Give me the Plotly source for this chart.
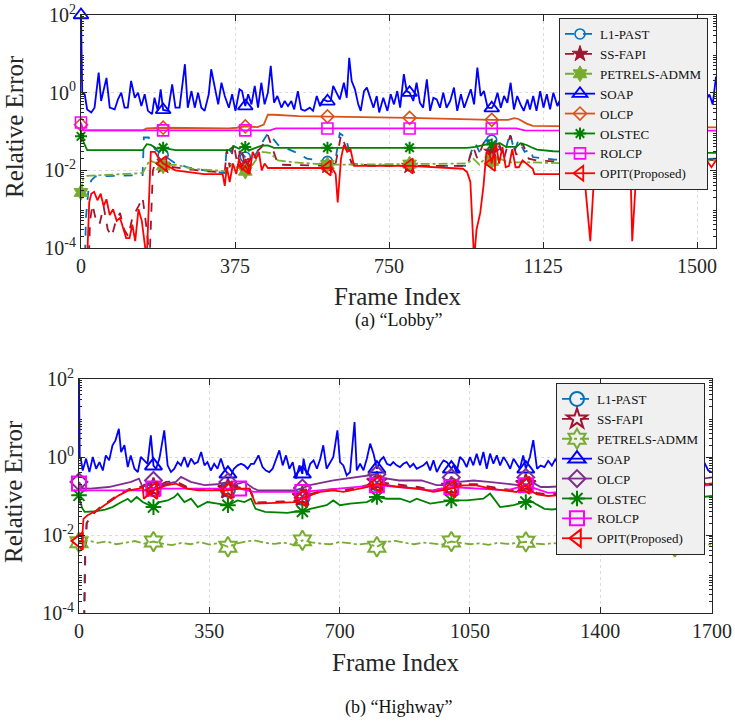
import numpy as np
import plotly.graph_objects as go

FONT = "Liberation Serif"
AX = "#262626"

# ------------------------------------------------------------------ Lobby data (frame, relative error)
lobby_l1past = [(0, 1e-6), (8, 1e-5), (12, 6e-4), (18, 3e-3), (25, 5.5e-3), (35, 7e-3), (150, 7.5e-3), (153, 0.07),
                (165, 0.07), (180, 0.035), (200, 0.025), (230, 0.015), (260, 0.012), (300, 0.01), (350, 0.0085),
                (355, 0.04), (365, 0.03), (375, 0.045), (385, 0.03), (400, 0.022), (420, 0.02), (440, 0.05),
                (455, 0.09), (465, 0.07), (480, 0.045), (520, 0.03), (550, 0.02), (600, 0.017), (620, 0.02),
                (630, 0.09), (645, 0.07), (660, 0.015), (700, 0.013), (800, 0.013), (940, 0.013), (950, 0.03),
                (960, 0.05), (970, 0.03), (985, 0.06), (1000, 0.06), (1015, 0.045), (1030, 0.025), (1045, 0.09),
                (1055, 0.03), (1065, 0.06), (1080, 0.03), (1095, 0.035), (1100, 0.022), (1150, 0.019),
                (1200, 0.018), (1260, 0.016), (1290, 0.012), (1330, 0.012), (1400, 0.017), (1546, 0.02)]
lobby_ssfapi = [(0, 1e-6), (17, 1e-5), (22, 5e-4), (28, 1.3e-3), (35, 6e-4), (45, 4e-4), (55, 1.2e-3), (65, 3e-4),
                (75, 2e-4), (85, 5e-4), (95, 8e-4), (105, 3e-4), (115, 2e-4), (125, 6e-4), (140, 1.2e-3),
                (150, 2e-3), (160, 3e-4), (167, 5e-5), (175, 0.01), (185, 0.02), (200, 0.013), (250, 0.011),
                (300, 0.0095), (350, 0.009), (355, 0.035), (362, 0.012), (372, 0.05), (380, 0.015), (390, 0.04),
                (400, 0.012), (420, 0.025), (440, 0.04), (455, 0.08), (465, 0.04), (480, 0.014), (600, 0.013),
                (620, 0.015), (633, 0.08), (645, 0.04), (660, 0.014), (800, 0.013), (940, 0.013), (955, 0.04),
                (965, 0.02), (980, 0.05), (1000, 0.03), (1015, 0.06), (1030, 0.02), (1045, 0.08), (1060, 0.025),
                (1075, 0.05), (1090, 0.02), (1110, 0.018), (1200, 0.016), (1400, 0.018), (1500, 0.02), (1546, 0.018)]
lobby_petrels = [(0, 0.0027), (5, 0.006), (15, 0.0072), (50, 0.0075), (150, 0.0085), (167, 0.018), (200, 0.013),
                 (230, 0.014), (270, 0.011), (350, 0.0095), (365, 0.014), (380, 0.012), (400, 0.0095), (420, 0.015),
                 (440, 0.03), (460, 0.028), (480, 0.018), (520, 0.016), (600, 0.014), (800, 0.0145), (940, 0.015),
                 (955, 0.02), (970, 0.014), (990, 0.025), (1000, 0.017), (1020, 0.02), (1040, 0.016), (1100, 0.016),
                 (1200, 0.015), (1300, 0.016), (1400, 0.017), (1546, 0.018)]
lobby_soap = [(0, 100), (3, 1.0), (9, 0.91), (15, 0.37), (25, 0.31), (33, 0.41), (43, 3.3), (49, 0.61), (62, 2.4),
              (70, 0.41), (82, 0.37), (90, 0.67), (98, 1.0), (106, 0.41), (114, 0.41), (122, 2.0), (131, 0.74),
              (139, 1.0), (147, 0.45), (155, 0.91), (163, 0.34), (173, 0.28), (179, 0.74), (187, 0.34), (194, 1.22),
              (200, 0.36), (212, 0.34), (222, 1.64), (230, 0.41), (240, 0.41), (253, 5.4), (260, 0.41), (269, 1.1),
              (277, 0.41), (285, 1.0), (293, 0.41), (301, 0.34), (311, 0.91), (317, 4.0), (325, 1.64), (334, 0.5),
              (342, 1.8), (350, 0.82), (360, 0.41), (368, 0.91), (376, 0.34), (386, 1.22), (392, 1.1), (400, 0.45),
              (407, 0.91), (415, 0.5), (423, 1.49), (431, 0.41), (439, 1.8), (447, 0.5), (455, 1.0), (462, 4.9),
              (470, 0.55), (478, 0.82), (488, 0.41), (496, 0.61), (504, 0.45), (512, 0.61), (519, 0.37), (528, 1.1),
              (536, 0.37), (545, 0.34), (557, 0.41), (565, 0.34), (574, 0.82), (582, 0.45), (590, 0.67), (600, 0.6),
              (608, 0.61), (614, 1.49), (622, 1.0), (630, 0.67), (640, 1.8), (647, 0.74), (653, 7.9), (659, 2.0),
              (667, 1.22), (675, 0.5), (681, 0.34), (689, 1.1), (696, 1.35), (704, 0.74), (712, 0.41), (720, 0.82),
              (726, 0.31), (736, 0.74), (746, 0.34), (754, 0.91), (762, 0.5), (770, 1.1), (777, 0.41), (786, 3.0),
              (793, 1.1), (800, 1.0), (809, 0.61), (817, 1.8), (825, 0.55), (833, 0.41), (842, 2.2), (850, 0.34),
              (858, 0.74), (866, 0.67), (874, 0.41), (882, 1.0), (890, 0.41), (899, 0.61), (908, 1.35), (916, 0.34),
              (925, 0.91), (933, 0.41), (941, 0.67), (949, 1.22), (957, 0.5), (965, 4.4), (973, 0.82), (981, 1.1),
              (990, 0.41), (1000, 0.4), (1006, 0.5), (1014, 1.0), (1022, 0.41), (1030, 0.82), (1038, 0.55),
              (1046, 1.8), (1054, 0.37), (1062, 0.82), (1070, 0.5), (1078, 0.34), (1087, 0.67), (1093, 0.37),
              (1101, 0.82), (1109, 0.34), (1118, 1.1), (1126, 0.41), (1134, 0.91), (1142, 0.37), (1150, 1.0),
              (1160, 0.45), (1170, 0.82), (1180, 0.4), (1190, 1.2), (1200, 0.5), (1210, 0.9), (1220, 0.4),
              (1230, 0.7), (1240, 1.3), (1250, 0.45), (1260, 0.8), (1270, 0.4), (1280, 1.0), (1290, 0.5),
              (1300, 0.7), (1310, 0.4), (1320, 1.5), (1330, 0.6), (1340, 0.45), (1350, 0.9), (1360, 0.5),
              (1370, 0.8), (1380, 0.4), (1390, 1.1), (1400, 0.5), (1410, 0.8), (1420, 0.45), (1430, 1.0),
              (1440, 0.5), (1450, 0.7), (1460, 0.4), (1470, 0.9), (1480, 0.5), (1490, 0.8), (1500, 0.45),
              (1510, 1.1), (1520, 0.6), (1530, 0.9), (1538, 0.5), (1546, 2.6)]
lobby_olcp = [(0, 0.15), (5, 0.107), (150, 0.107), (160, 0.12), (200, 0.125), (360, 0.12), (380, 0.125),
              (400, 0.135), (430, 0.13), (445, 0.15), (455, 0.27), (470, 0.27), (530, 0.25), (600, 0.245),
              (800, 0.225), (1000, 0.2), (1040, 0.2), (1055, 0.22), (1065, 0.21), (1085, 0.16), (1100, 0.14),
              (1200, 0.135), (1400, 0.13), (1546, 0.128)]
lobby_olstec = [(0, 0.075), (8, 0.05), (15, 0.033), (150, 0.033), (160, 0.047), (170, 0.045), (185, 0.036),
                (200, 0.038), (215, 0.036), (230, 0.033), (360, 0.033), (372, 0.042), (385, 0.036), (395, 0.043),
                (400, 0.04), (410, 0.033), (425, 0.038), (440, 0.043), (455, 0.044), (470, 0.038), (600, 0.038),
                (800, 0.038), (940, 0.038), (960, 0.04), (990, 0.047), (1000, 0.046), (1020, 0.05), (1035, 0.04),
                (1060, 0.04), (1070, 0.05), (1085, 0.045), (1095, 0.04), (1110, 0.034), (1150, 0.031),
                (1200, 0.03), (1400, 0.029), (1546, 0.028)]
lobby_rolcp = [(0, 0.17), (5, 0.107), (200, 0.107), (400, 0.107), (460, 0.107), (475, 0.12), (600, 0.12),
               (800, 0.12), (1000, 0.12), (1060, 0.12), (1080, 0.107), (1200, 0.106), (1400, 0.105), (1546, 0.105)]
lobby_opit = [(0, 1e-6), (15, 5e-5), (20, 1.5e-3), (25, 2.5e-3), (32, 2.8e-3), (40, 1.7e-3), (48, 2.5e-3),
              (55, 1.2e-3), (62, 1.8e-3), (70, 7e-4), (78, 1e-3), (87, 5e-4), (95, 6e-4), (103, 3e-4),
              (110, 1.8e-4), (118, 1.8e-4), (125, 4e-4), (132, 1.5e-4), (140, 1e-3), (148, 5e-4), (155, 1e-4),
              (160, 5e-5), (170, 0.03), (180, 0.03), (190, 0.02), (200, 0.015), (230, 0.01), (300, 0.008),
              (345, 0.008), (350, 0.004), (355, 0.012), (362, 0.005), (370, 0.015), (378, 0.008), (385, 0.02),
              (392, 0.01), (400, 0.013), (410, 0.008), (418, 0.03), (426, 0.02), (433, 0.03), (440, 0.01),
              (447, 0.015), (455, 0.0115), (600, 0.0115), (610, 0.012), (620, 0.008), (625, 0.0015), (633, 0.02),
              (640, 0.045), (648, 0.03), (656, 0.035), (665, 0.013), (800, 0.013), (930, 0.011), (940, 0.009),
              (948, 0.005), (957, 5e-5), (963, 3e-4), (972, 8e-4), (980, 0.004), (987, 0.03), (995, 0.025),
              (1000, 0.015), (1010, 0.05), (1018, 0.015), (1026, 0.04), (1034, 0.012), (1042, 0.013),
              (1050, 0.035), (1058, 0.012), (1066, 0.012), (1075, 0.018), (1090, 0.013), (1100, 0.011),
              (1104, 0.008), (1200, 0.008), (1225, 0.008), (1240, 1.5e-4), (1250, 0.01), (1338, 0.009),
              (1342, 1.5e-4), (1350, 0.004), (1357, 0.011), (1400, 0.012), (1420, 0.013), (1440, 0.02),
              (1460, 0.012), (1480, 0.025), (1500, 0.013), (1520, 0.02), (1535, 0.012), (1546, 0.018)]

# ------------------------------------------------------------------ Highway data (frame, relative error)
hw_l1past = [(0, 1e-6), (12, 1e-5), (16, 0.003), (20, 0.02), (30, 0.028), (40, 0.036), (55, 0.048), (81, 0.072),
             (107, 0.105), (134, 0.145), (161, 0.16), (171, 0.175), (176, 0.09), (200, 0.15), (234, 0.2),
             (260, 0.22), (290, 0.16), (320, 0.145), (400, 0.145), (430, 0.16), (457, 0.16), (474, 0.066),
             (583, 0.072), (600, 0.09), (648, 0.13), (683, 0.145), (710, 0.13), (773, 0.175), (800, 0.21),
             (830, 0.19), (862, 0.175), (910, 0.16), (952, 0.13), (1000, 0.16), (1030, 0.19), (1068, 0.19),
             (1104, 0.16), (1140, 0.145), (1175, 0.13), (1200, 0.19), (1211, 0.145), (1230, 0.115),
             (1260, 0.105), (1400, 0.135), (1600, 0.165), (1700, 0.215)]
hw_ssfapi = [(0, 1e-6), (13, 1e-5), (17, 0.003), (21, 0.02), (30, 0.029), (40, 0.037), (55, 0.05), (81, 0.075),
             (107, 0.11), (134, 0.15), (161, 0.17), (171, 0.18), (176, 0.095), (200, 0.16), (234, 0.23),
             (260, 0.24), (290, 0.17), (320, 0.15), (400, 0.15), (430, 0.165), (457, 0.165), (474, 0.068),
             (583, 0.075), (600, 0.095), (648, 0.135), (683, 0.15), (710, 0.14), (773, 0.19), (800, 0.23),
             (830, 0.21), (862, 0.19), (910, 0.17), (952, 0.14), (1000, 0.17), (1030, 0.2), (1068, 0.2),
             (1104, 0.17), (1140, 0.15), (1175, 0.14), (1200, 0.2), (1211, 0.155), (1230, 0.12), (1260, 0.11),
             (1400, 0.14), (1600, 0.17), (1700, 0.22)]
hw_petrels = [(0, 0.0065), (25, 0.0072), (50, 0.0063), (75, 0.0068), (100, 0.0058), (125, 0.0064), (150, 0.0070),
              (175, 0.0060), (200, 0.0068), (225, 0.0060), (250, 0.0055), (275, 0.0063), (300, 0.0058),
              (325, 0.0066), (350, 0.0057), (375, 0.0062), (400, 0.0050), (425, 0.0061), (450, 0.0069),
              (475, 0.0072), (500, 0.0063), (525, 0.0059), (550, 0.0064), (575, 0.0056), (600, 0.0073),
              (625, 0.0065), (650, 0.0060), (675, 0.0058), (700, 0.0066), (725, 0.0062), (750, 0.0057),
              (775, 0.0061), (800, 0.0050), (825, 0.0067), (850, 0.0071), (875, 0.0063), (900, 0.0058),
              (925, 0.0064), (950, 0.0060), (975, 0.0057), (1000, 0.0068), (1025, 0.0062), (1050, 0.0058),
              (1075, 0.0061), (1100, 0.0056), (1125, 0.0063), (1150, 0.0059), (1175, 0.0062), (1200, 0.0067),
              (1225, 0.0060), (1250, 0.0058), (1275, 0.0062), (1300, 0.0057), (1325, 0.0061), (1350, 0.0059),
              (1375, 0.0063), (1400, 0.0066), (1425, 0.0058), (1450, 0.0061), (1475, 0.0057), (1500, 0.0060),
              (1525, 0.0056), (1550, 0.0059), (1575, 0.0055), (1600, 0.0050), (1625, 0.0058), (1650, 0.0055),
              (1675, 0.0060), (1700, 0.0056)]
hw_soap = [(0, 100), (2, 1.0), (5, 0.9), (10, 0.45), (19, 0.91), (28, 0.41), (37, 1.0), (46, 0.5), (55, 0.74),
           (64, 0.45), (72, 1.1), (81, 0.82), (90, 2.0), (98, 2.67), (107, 5.3), (113, 1.34), (122, 2.0),
           (131, 0.55), (139, 1.1), (149, 0.5), (158, 0.41), (166, 1.0), (175, 0.82), (184, 0.67), (193, 3.6),
           (200, 0.6), (207, 0.5), (216, 0.91), (229, 4.8), (238, 0.61), (247, 0.41), (256, 0.5), (265, 0.74),
           (274, 0.61), (283, 1.0), (292, 0.55), (301, 0.91), (310, 0.67), (319, 0.74), (328, 1.34), (337, 0.61),
           (345, 0.74), (354, 0.45), (363, 0.67), (372, 0.5), (381, 0.91), (390, 0.5), (400, 0.37), (408, 0.34),
           (416, 0.5), (426, 0.61), (435, 0.67), (444, 0.61), (453, 0.5), (462, 0.67), (470, 0.67), (482, 1.1),
           (493, 0.55), (502, 0.45), (511, 0.41), (520, 0.5), (529, 0.82), (538, 1.48), (547, 0.61), (556, 1.1),
           (565, 0.5), (574, 0.74), (583, 0.28), (592, 0.61), (600, 0.37), (603, 0.906), (612, 0.34), (621, 0.67),
           (630, 0.82), (639, 0.5), (648, 0.906), (656, 2.0), (665, 0.5), (674, 0.74), (683, 1.0), (694, 4.8),
           (701, 0.74), (710, 0.61), (719, 0.34), (728, 0.41), (740, 7.9), (746, 0.455), (755, 0.67), (764, 0.455),
           (773, 0.906), (782, 2.2), (791, 1.22), (800, 0.5), (809, 0.82), (818, 1.0), (827, 0.67), (836, 0.61),
           (844, 0.74), (853, 0.61), (862, 0.55), (871, 0.67), (880, 0.74), (889, 0.55), (898, 0.67), (907, 0.5),
           (916, 0.55), (925, 0.61), (934, 0.74), (943, 0.455), (952, 0.82), (961, 0.41), (970, 0.61), (979, 0.82),
           (988, 0.74), (1000, 0.5), (1006, 0.61), (1014, 0.41), (1023, 1.0), (1032, 0.82), (1041, 0.55),
           (1050, 1.0), (1059, 0.61), (1068, 1.22), (1077, 0.61), (1086, 1.34), (1095, 0.5), (1104, 1.22),
           (1113, 0.67), (1122, 1.1), (1131, 0.61), (1140, 1.0), (1149, 0.74), (1158, 0.5), (1167, 0.906),
           (1175, 0.67), (1184, 0.5), (1193, 1.1), (1200, 0.5), (1211, 1.0), (1220, 2.7), (1230, 0.5),
           (1240, 0.6), (1250, 0.55), (1260, 0.8), (1270, 0.6), (1280, 0.9), (1290, 0.5), (1300, 0.7),
           (1310, 0.5), (1320, 1.0), (1330, 0.6), (1340, 0.8), (1350, 0.5), (1360, 0.9), (1370, 0.6),
           (1380, 0.7), (1390, 0.5), (1400, 0.8), (1410, 0.6), (1420, 1.0), (1430, 0.5), (1440, 0.7),
           (1450, 0.6), (1460, 0.9), (1470, 0.5), (1480, 0.8), (1490, 0.6), (1500, 0.7), (1510, 0.5),
           (1520, 0.9), (1530, 0.6), (1540, 0.8), (1550, 0.5), (1560, 0.7), (1570, 0.6), (1580, 0.9),
           (1590, 0.5), (1600, 0.7), (1610, 0.6), (1620, 0.8), (1630, 0.5), (1640, 0.7), (1650, 0.6),
           (1660, 0.8), (1670, 0.6), (1680, 0.7), (1690, 0.45), (1700, 0.4)]
hw_olcp = [(0, 0.23), (10, 0.16), (30, 0.155), (80, 0.17), (140, 0.23), (161, 0.28), (171, 0.17), (200, 0.25),
           (215, 0.19), (260, 0.23), (274, 0.31), (300, 0.23), (337, 0.19), (370, 0.2), (400, 0.23), (415, 0.19),
           (444, 0.23), (467, 0.16), (480, 0.14), (580, 0.14), (600, 0.16), (620, 0.19), (683, 0.25), (773, 0.34),
           (800, 0.36), (815, 0.29), (860, 0.25), (920, 0.25), (960, 0.19), (980, 0.19), (1000, 0.3),
           (1020, 0.23), (1060, 0.25), (1100, 0.23), (1140, 0.21), (1180, 0.19), (1200, 0.3), (1215, 0.23),
           (1240, 0.17), (1260, 0.17), (1400, 0.2), (1600, 0.22), (1700, 0.3)]
hw_olstec = [(0, 0.104), (8, 0.05), (15, 0.039), (40, 0.04), (70, 0.045), (90, 0.052), (107, 0.064), (131, 0.085),
             (140, 0.07), (155, 0.094), (171, 0.07), (200, 0.052), (216, 0.07), (238, 0.077), (256, 0.094),
             (265, 0.115), (283, 0.07), (301, 0.085), (319, 0.052), (345, 0.07), (372, 0.064), (400, 0.058),
             (426, 0.077), (444, 0.07), (462, 0.085), (474, 0.047), (500, 0.039), (560, 0.037), (583, 0.04),
             (600, 0.04), (621, 0.047), (665, 0.058), (683, 0.077), (701, 0.058), (728, 0.064), (773, 0.07),
             (800, 0.094), (827, 0.085), (862, 0.085), (889, 0.07), (907, 0.085), (943, 0.064), (970, 0.07),
             (1000, 0.077), (1041, 0.077), (1086, 0.085), (1104, 0.115), (1131, 0.052), (1167, 0.058),
             (1200, 0.07), (1211, 0.077), (1230, 0.06), (1250, 0.047), (1270, 0.045), (1400, 0.06),
             (1600, 0.08), (1700, 0.1)]
hw_rolcp = [(0, 0.21), (5, 0.14), (170, 0.14), (200, 0.155), (430, 0.155), (455, 0.14), (470, 0.127), (600, 0.127),
            (680, 0.15), (790, 0.19), (800, 0.19), (950, 0.14), (1000, 0.17), (1150, 0.14), (1200, 0.188),
            (1260, 0.12), (1400, 0.15), (1600, 0.17), (1700, 0.19)]
hw_opit = [(0, 0.007), (8, 0.007), (12, 0.026), (23, 0.032), (40, 0.039), (55, 0.047), (81, 0.07), (107, 0.104),
           (134, 0.14), (161, 0.154), (171, 0.17), (174, 0.085), (200, 0.14), (234, 0.188), (260, 0.207),
           (290, 0.154), (320, 0.14), (400, 0.14), (430, 0.154), (457, 0.154), (474, 0.064), (583, 0.07),
           (600, 0.09), (648, 0.127), (683, 0.14), (710, 0.127), (773, 0.17), (800, 0.207), (830, 0.188),
           (862, 0.17), (910, 0.154), (952, 0.127), (1000, 0.154), (1030, 0.188), (1068, 0.188), (1104, 0.154),
           (1140, 0.14), (1175, 0.127), (1200, 0.188), (1211, 0.14), (1230, 0.11), (1260, 0.1), (1400, 0.13),
           (1600, 0.16), (1700, 0.21)]

lobby_marker_frames = [0, 200, 400, 600, 800, 1000, 1200, 1400]
hw_marker_frames = [0, 200, 400, 600, 800, 1000, 1200, 1400, 1600]
hw_soap_marker_frames = [200, 400, 600, 800, 1000, 1200, 1400, 1600]
lobby_xticks = [0, 375, 750, 1125, 1500]
hw_xticks = [0, 350, 700, 1050, 1400, 1700]
y_ticks = [1e-4, 1e-2, 1, 100]
y_ticktext = ["10<sup>-4</sup>", "10<sup>-2</sup>", "10<sup>0</sup>", "10<sup>2</sup>"]
y_minor = [k * 10.0 ** e for e in range(-4, 2) for k in range(2, 10)]

names = ["L1-PAST", "SS-FAPI", "PETRELS-ADMM", "SOAP", "OLCP", "OLSTEC", "ROLCP", "OPIT(Proposed)"]

fig = go.Figure()


def add_series(xa, ya, leg, name, pairs, color, dash, symbol, msize, mlw, mframes, lw=1.8):
    f = np.array([p[0] for p in pairs], dtype=float)
    v = np.array([p[1] for p in pairs], dtype=float)
    marker = dict(symbol=symbol, size=msize, color=color, line=dict(color=color, width=mlw))
    fig.add_trace(go.Scatter(x=f, y=v, mode="lines", line=dict(color=color, width=lw, dash=dash),
                             xaxis=xa, yaxis=ya, showlegend=False, hoverinfo="skip"))
    idx = [int(np.argmin(np.abs(f - m))) for m in mframes]
    idx = [i for i in idx if v[i] >= 1e-4]
    fig.add_trace(go.Scatter(x=f[idx], y=v[idx], mode="markers", marker=marker, cliponaxis=False,
                             xaxis=xa, yaxis=ya, showlegend=False, hoverinfo="skip"))
    fig.add_trace(go.Scatter(x=[None], y=[None], mode="lines+markers", name=name,
                             line=dict(color=color, width=lw, dash=dash), marker=marker,
                             xaxis=xa, yaxis=ya, legend=leg))


top_specs = [
    (lobby_l1past, "#0072BD", "dash", "circle-open", 10, 1.6, lobby_marker_frames),
    (lobby_ssfapi, "#A2142F", "dash", "star", 12, 1, lobby_marker_frames),
    (lobby_petrels, "#77AC30", "dashdot", "hexagram", 12, 1, lobby_marker_frames),
    (lobby_soap, "#0000FF", "solid", "triangle-up-open", 13, 1.8, lobby_marker_frames),
    (lobby_olcp, "#D95319", "solid", "diamond-open", 10, 1.6, lobby_marker_frames),
    (lobby_olstec, "#008000", "solid", "asterisk-open", 10, 2, lobby_marker_frames),
    (lobby_rolcp, "#FF00FF", "solid", "square-open", 11, 1.6, lobby_marker_frames),
    (lobby_opit, "#FF0000", "solid", "triangle-left-open", 13, 1.8, lobby_marker_frames),
]
bot_specs = [
    (hw_l1past, "#0072BD", "dash", "circle-open", 14, 2, hw_marker_frames),
    (hw_ssfapi, "#A2142F", "dash", "star-open", 15, 2, hw_marker_frames),
    (hw_petrels, "#77AC30", "dashdot", "hexagram-open", 15, 2, hw_marker_frames),
    (hw_soap, "#0000FF", "solid", "triangle-up-open", 15, 2, hw_soap_marker_frames),
    (hw_olcp, "#7E2F8E", "solid", "diamond-open", 13, 2, hw_marker_frames),
    (hw_olstec, "#008000", "solid", "asterisk-open", 13, 2, hw_marker_frames),
    (hw_rolcp, "#FF00FF", "solid", "square-open", 14, 2, hw_marker_frames),
    (hw_opit, "#FF0000", "solid", "triangle-left-open", 15, 2, hw_marker_frames),
]

for name, (pairs, c, d, s, ms, mlw, mf) in zip(names, top_specs):
    add_series("x", "y", "legend", name, pairs, c, d, s, ms, mlw, mf)
for name, (pairs, c, d, s, ms, mlw, mf) in zip(names, bot_specs):
    add_series("x2", "y2", "legend2", name, pairs, c, d, s, ms, mlw, mf)

W, H = 735, 722
tickfont = dict(family=FONT, size=20, color=AX)


def xax(domain, rng, ticks, anchor):
    return dict(domain=domain, range=rng, tickvals=ticks, ticks="inside", ticklen=6, tickcolor=AX,
                showline=True, linecolor=AX, linewidth=1, mirror="ticks", zeroline=False,
                showgrid=True, gridcolor="#dcdcdc", griddash="dot", gridwidth=1,
                tickfont=tickfont, anchor=anchor, automargin=False)


def yax(domain, anchor):
    return dict(domain=domain, type="log", range=[-4, 2], tickvals=y_ticks, ticktext=y_ticktext,
                ticks="inside", ticklen=6, tickcolor=AX, showline=True, linecolor=AX, linewidth=1,
                mirror="ticks", zeroline=False, showgrid=True, gridcolor="#dcdcdc", griddash="dot",
                gridwidth=1, tickfont=tickfont, anchor=anchor, automargin=False,
                minor=dict(tickvals=y_minor, ticks="inside", ticklen=3, tickcolor=AX, showgrid=False))


legend_common = dict(bgcolor="#f0f0f0", bordercolor=AX, borderwidth=1, xanchor="right", yanchor="top",
                     font=dict(family=FONT, size=13, color="#111111"), tracegroupgap=0, itemwidth=30)

fig.update_layout(
    width=W, height=H, margin=dict(l=0, r=0, t=0, b=0, autoexpand=False),
    paper_bgcolor="white", plot_bgcolor="white",
    xaxis=xax([81 / W, 716 / W], [0, 1546], lobby_xticks, "y"),
    yaxis=yax([1 - 248 / H, 1 - 15 / H], "x"),
    xaxis2=xax([79 / W, 712 / W], [0, 1700], hw_xticks, "y2"),
    yaxis2=yax([1 - 613 / H, 1 - 379 / H], "x2"),
    legend=dict(x=708 / W, y=1 - 18 / H, **legend_common),
    legend2=dict(x=705 / W, y=1 - 383 / H, **legend_common),
)

ann_font = dict(family=FONT, size=25, color=AX)
cap_font = dict(family=FONT, size=18, color="#111111")
annotations = [
    dict(text="Frame Index", x=398 / W, y=1 - 296 / H, font=ann_font),
    dict(text="Frame Index", x=396 / W, y=1 - 662 / H, font=ann_font),
    dict(text="Relative Error", x=15 / W, y=1 - 127 / H, font=ann_font, textangle=-90),
    dict(text="Relative Error", x=13 / W, y=1 - 492 / H, font=ann_font, textangle=-90),
    dict(text="(a) \u201cLobby\u201d", x=398 / W, y=1 - 320 / H, font=cap_font),
    dict(text="(b) \u201cHighway\u201d", x=398 / W, y=1 - 707 / H, font=cap_font),
]
for a in annotations:
    fig.add_annotation(xref="paper", yref="paper", showarrow=False, xanchor="center", yanchor="middle", **a)

fig.write_html("out.html")
